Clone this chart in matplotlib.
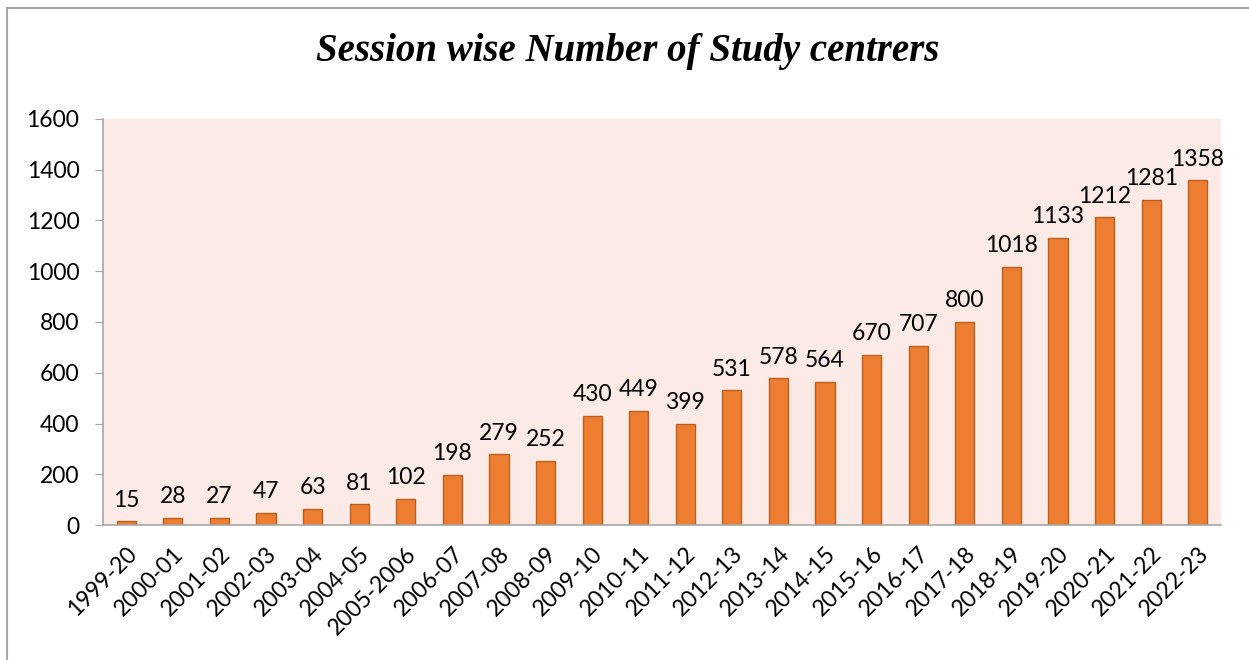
import matplotlib
matplotlib.use("Agg")
import matplotlib.pyplot as plt
from matplotlib.patches import Rectangle

sessions = ["1999-20", "2000-01", "2001-02", "2002-03", "2003-04", "2004-05",
            "2005-2006", "2006-07", "2007-08", "2008-09", "2009-10", "2010-11",
            "2011-12", "2012-13", "2013-14", "2014-15", "2015-16", "2016-17",
            "2017-18", "2018-19", "2019-20", "2020-21", "2021-22", "2022-23"]
centres = [15, 28, 27, 47, 63, 81, 102, 198, 279, 252, 430, 449, 399, 531,
           578, 564, 670, 707, 800, 1018, 1133, 1212, 1281, 1358]
yticks = [0, 200, 400, 600, 800, 1000, 1200, 1400, 1600]

plt.rcParams['font.family'] = ['Lato', 'DejaVu Sans']
FS = 16.5

fig = plt.figure(figsize=(12.49, 6.60), dpi=100)
fig.patch.set_facecolor('white')
# outer chart border
fig.patches.append(Rectangle((7/1249, -0.05), 1.2, 1 - 8/660 + 0.05,
                             transform=fig.transFigure, fill=False,
                             edgecolor='#a6a6a6', linewidth=1.5, zorder=0))

ax = fig.add_axes([103/1249, 1 - 525/660, (1221 - 103)/1249, (525 - 119)/660])
ax.set_facecolor('#fbeae6')
x = list(range(len(sessions)))
ax.bar(x, centres, width=0.41, color='#ed7d31', edgecolor='#b8601f',
       linewidth=1.0, zorder=2)
for xi, v in zip(x, centres):
    ax.text(xi, v + 42, str(v), ha='center', va='bottom', fontsize=FS,
            color='black', zorder=3)

ax.set_xlim(-0.5, len(sessions) - 0.5)
ax.set_ylim(0, 1600)
ax.set_yticks(yticks)
ax.set_yticklabels([str(t) for t in yticks], fontsize=FS)
ax.set_xticks(x)
ax.set_xticklabels(sessions, rotation=45, ha='right', rotation_mode='anchor',
                   fontsize=FS)
ax.tick_params(axis='x', length=0, pad=13)
ax.tick_params(axis='y', length=6, color='#a6a6a6', pad=11)
for s in ['top', 'right']:
    ax.spines[s].set_visible(False)
ax.spines['left'].set_color('#a6a6a6')
ax.spines['bottom'].set_color('#a6a6a6')
ax.spines['left'].set_linewidth(1.2)
ax.spines['bottom'].set_linewidth(1.2)

fig.text(628/1249, 1 - 52/660, "Session wise Number of Study centrers",
         ha='center', va='center', fontsize=28, fontweight='bold',
         fontstyle='italic', family=['Liberation Serif', 'DejaVu Serif'])

fig.savefig('out.png', dpi=100)
